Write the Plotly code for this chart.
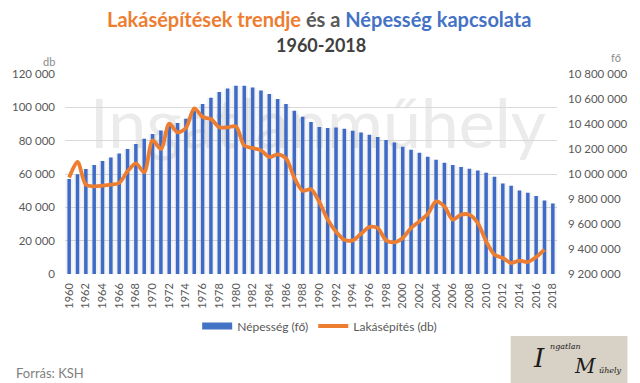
import plotly.graph_objects as go

# ---------------- data ----------------
years = [str(y) for y in range(1960, 2019)]
tick_years = [str(y) for y in range(1960, 2019, 2)]

# Népesség (fő) – right axis
population = [
    9961000, 9998000, 10040000, 10072000, 10104000, 10133000, 10165000, 10200000, 10240000, 10282000,
    10320000, 10349000, 10389000, 10408000, 10443000, 10505000, 10560000, 10610000, 10656000, 10685000,
    10706000, 10706000, 10693000, 10669000, 10640000, 10600000, 10560000, 10507000, 10459000, 10416000,
    10376000, 10368000, 10373000, 10363000, 10347000, 10333000, 10315000, 10296000, 10272000, 10253000,
    10219000, 10195000, 10171000, 10139000, 10115000, 10091000, 10072000, 10056000, 10043000, 10029000,
    10011000, 9979000, 9925000, 9907000, 9869000, 9851000, 9824000, 9789000, 9765000,
]

# Lakásépítés (db) – left axis
housing = [
    57900, 67200, 53600, 52600, 53000, 53600, 54600, 61600, 66400, 61000,
    80200, 75000, 90200, 85000, 87600, 99400, 94200, 93000, 88000, 88000,
    88600, 77000, 75600, 74200, 70200, 71800, 69400, 57800, 50000, 50800,
    43200, 32600, 25400, 20600, 20200, 24200, 28200, 27600, 20200, 19000,
    21600, 27600, 31600, 36000, 43600, 40600, 32600, 35600, 35600, 30600,
    19600, 11600, 9600, 6600, 8000, 7200, 10200, 14600, None,
]

ORANGE = "#ED7D31"
BLUE = "#4472C4"
GRAY = "#595959"
FONT = "Lato"

# plot-area geometry helpers (pixels -> paper)
L, R, T, B = 57, 73, 74, 109
W, H = 640, 383
PW, PH = W - L - R, H - T - B


def px(xp):
    return (xp - L) / PW


def py(yp):
    return (H - B - yp) / PH


fig = go.Figure()

# soft shadow behind columns
fig.add_trace(go.Bar(
    x=years, y=population, width=0.9, yaxis="y",
    marker=dict(color="rgba(0,0,0,0.055)", line=dict(width=0)),
    showlegend=False, hoverinfo="skip",
))
fig.add_trace(go.Bar(
    x=years, y=population, width=0.42, yaxis="y",
    marker=dict(color="#3D6BC7", line=dict(width=0)),
    name="Népesség (fő)", showlegend=False,
))
# legend swatch for the columns
fig.add_trace(go.Scatter(
    x=[None], y=[None], mode="lines", yaxis="y",
    line=dict(color=BLUE, width=7), name="Népesség (fő)",
))
fig.add_trace(go.Scatter(
    x=years, y=housing, mode="lines", yaxis="y2",
    line=dict(color=ORANGE, width=3.8, shape="spline", smoothing=0.8),
    name="Lakásépítés (db)", connectgaps=False,
))

fig.update_layout(
    width=W, height=H, autosize=False,
    margin=dict(l=L, r=R, t=T, b=B),
    paper_bgcolor="white", plot_bgcolor="white",
    separators=", ",
    barmode="overlay",
    font=dict(family=FONT, size=11, color=GRAY),
    xaxis=dict(
        type="category", tickmode="array", tickvals=tick_years, ticktext=tick_years,
        tickangle=-90, tickfont=dict(size=11, color=GRAY), showgrid=False,
        showline=False, zeroline=False, ticks="", ticklabelstandoff=6,
    ),
    yaxis=dict(
        side="right", range=[9200000, 10800000], dtick=200000, tick0=9200000,
        tickformat=",d", showgrid=False, zeroline=False, showline=False,
        tickfont=dict(size=11.5, color=GRAY), ticklabelstandoff=10,
    ),
    yaxis2=dict(
        overlaying="y", side="left", range=[0, 120000], dtick=20000,
        tickformat=",d", showgrid=True, gridcolor="#D9D9D9", gridwidth=1,
        zeroline=False, showline=False,
        tickfont=dict(size=11.5, color=GRAY), ticklabelstandoff=9,
    ),
    legend=dict(
        orientation="h", x=px(321), xanchor="center", y=py(326), yanchor="middle",
        font=dict(size=12, color=GRAY), itemwidth=30, bgcolor="rgba(0,0,0,0)",
    ),
    shapes=[
        dict(
            type="rect", xref="paper", yref="paper",
            x0=px(95), x1=px(543), y0=py(160), y1=py(80),
            line=dict(width=0), fillcolor="rgba(0,0,0,0)", layer="below",
            label=dict(text="Ingatlanműhely", textposition="middle center",
                       font=dict(family=FONT, size=68, color="#EBEBEB")),
        ),
        dict(
            type="rect", xref="paper", yref="paper",
            x0=px(519), x1=px(640), y0=py(383), y1=py(336),
            line=dict(width=0), fillcolor="#D8D1C6", layer="above",
        ),
    ],
    annotations=[
        dict(
            text="<b><span style='color:#ED7D31'>Lakásépítések trendje</span> és a "
                 "<span style='color:#4472C4'>Népesség kapcsolata</span></b>",
            xref="paper", yref="paper", x=px(320), y=py(19),
            xanchor="center", yanchor="middle", showarrow=False,
            font=dict(family=FONT, size=20, color=GRAY),
        ),
        dict(
            text="<b>1960-2018</b>", xref="paper", yref="paper", x=px(322), y=py(45),
            xanchor="center", yanchor="middle", showarrow=False,
            font=dict(family=FONT, size=18, color="#404040"),
        ),
        dict(text="db", xref="paper", yref="paper", x=px(40), y=py(61),
             xanchor="center", yanchor="middle", showarrow=False,
             font=dict(size=11, color="#8C8C8C")),
        dict(text="fő", xref="paper", yref="paper", x=px(628), y=py(58),
             xanchor="center", yanchor="middle", showarrow=False,
             font=dict(size=11, color="#8C8C8C")),
        dict(text="Forrás: KSH", xref="paper", yref="paper", x=px(4), y=py(373),
             xanchor="left", yanchor="middle", showarrow=False,
             font=dict(size=13, color="#7F7F7F")),
        dict(text="<i>I</i>", xref="paper", yref="paper", x=px(548), y=py(358),
             xanchor="center", yanchor="middle", showarrow=False,
             font=dict(family="DejaVu Serif", size=26, color="#1A1A1A")),
        dict(text="<i>ngatlan</i>", xref="paper", yref="paper", x=px(576), y=py(346),
             xanchor="center", yanchor="middle", showarrow=False,
             font=dict(family="DejaVu Serif", size=8, color="#1A1A1A")),
        dict(text="<i>M</i>", xref="paper", yref="paper", x=px(596), y=py(366),
             xanchor="center", yanchor="middle", showarrow=False,
             font=dict(family="DejaVu Serif", size=20, color="#1A1A1A")),
        dict(text="<i>űhely</i>", xref="paper", yref="paper", x=px(622), y=py(370),
             xanchor="center", yanchor="middle", showarrow=False,
             font=dict(family="DejaVu Serif", size=8, color="#1A1A1A")),
    ],
)

fig.write_html(
    "out.html",
    config={"displayModeBar": False},
    post_script="document.body.style.margin='0px';",
)
